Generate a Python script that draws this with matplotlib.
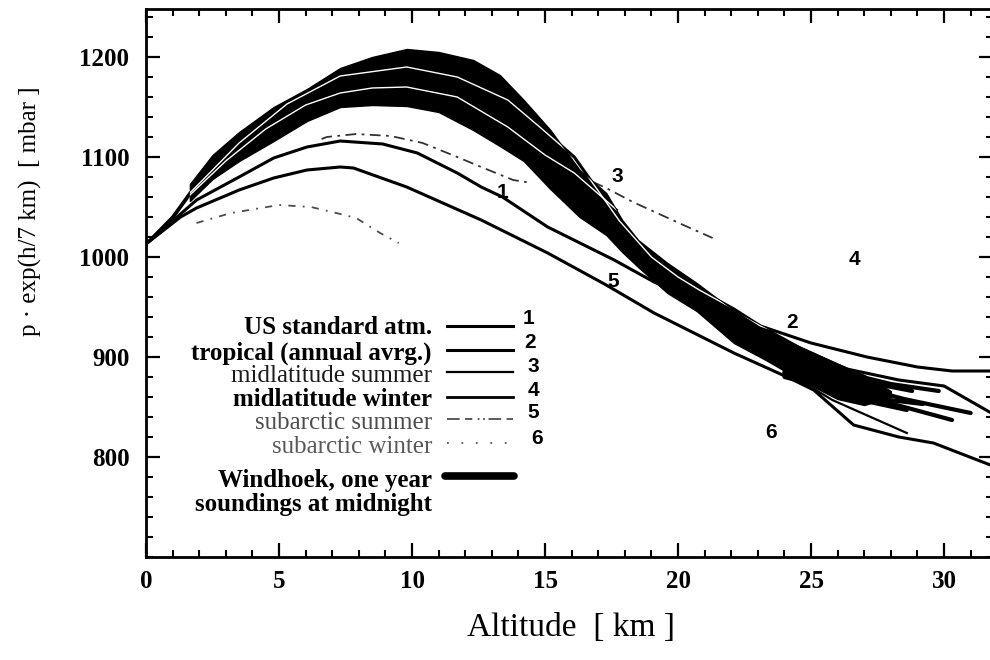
import matplotlib
matplotlib.use("Agg")
import matplotlib.pyplot as plt
from matplotlib.ticker import MultipleLocator

nan = float("nan")

# p*exp(h/7km) profiles (altitude km, value mbar)
alt_us = [0, 1.0, 1.9, 3.5, 4.8, 6.05, 7.3, 8.9, 10.2, 11.7, 12.6, 13.4, 15.1, 17.6,
          19.1, 20.8, 22.1, 24.0, 26.35, 28.3, 30.0, 31.84]
val_us = [1013, 1036, 1057, 1080, 1099, 1110, 1116, 1113, 1104, 1084, 1070, 1060, 1030, 997,
          975, 956, 941, 916, 888, 877, 871, 843]

alt_trop = [0, 1.0, 1.65, 3.5, 5.3, 7.3, 9.8, 11.7, 13.6, 14.8, 16.1, 17.8, 19.0, 20.0,
            20.8, 22.1, 23.1, 25.0, 27.1, 29.0, 30.3, 31.84]
val_trop = [1013, 1040, 1064, 1114, 1153, 1181, 1190, 1180, 1157, 1130, 1100, 1036, 1000, 980,
            967, 948, 931, 914, 900, 890, 886, 886]

alt_mls = [0, 1.0, 1.65, 3.0, 4.5, 6.0, 7.3, 8.5, 9.8, 11.7, 13.6, 15.0, 16.1, 17.7]
val_mls = [1013, 1038, 1062, 1096, 1128, 1152, 1164, 1169, 1170, 1160, 1130, 1102, 1084, 1047]

# dash-dot curve, lost behind the bundle between ~14.5 and ~16.8 km
alt_mlw = [6.6, 6.8, 7.9, 9.2, 10.4, 11.7, 12.6, 13.8, 14.5, 15.5, 16.8, 17.3, 18.3, 20.2, 21.3]
val_mlw = [1118, 1120, 1123, 1121, 1114, 1100, 1090, 1077, 1074, nan, 1075, 1069, 1055, 1032, 1019]

alt_sas = [0, 1.3, 1.9, 3.5, 4.8, 6.05, 7.3, 7.8, 9.8, 12.6, 15.1, 17.3, 19.1, 22.1,
           24.1, 25.1, 26.6, 28.3, 29.6, 31.84]
val_sas = [1013, 1040, 1049, 1067, 1079, 1087, 1090, 1089, 1070, 1037, 1004, 972, 944, 904,
           880, 867, 832, 820, 814, 791]

alt_saw = [1.9, 3.2, 5.0, 6.2, 7.0, 7.9, 8.8, 9.5]
val_saw = [1034, 1044, 1052, 1050, 1045, 1039, 1024, 1014]

# Windhoek soundings: envelope of the bundle and the loose ends above 24 km
band_alt = [1.65, 2.5, 3.5, 4.8, 6.05, 7.3, 8.5, 9.8, 11.0, 12.3, 13.3, 14.2, 15.2, 16.3,
            17.3, 17.9, 18.5, 19.6, 20.7, 22.1, 23.3, 24.6, 26.0, 27.0, 28.0]
band_hi = [1073, 1102, 1125, 1150, 1168, 1189, 1200, 1208, 1205, 1197, 1182, 1157, 1127, 1087,
           1064, 1037, 1017, 994, 974, 946, 929, 910, 893, 882, 866]
band_lo = [1056, 1078, 1096, 1116, 1136, 1150, 1152, 1151, 1145, 1127, 1111, 1096, 1068, 1040,
           1022, 1005, 990, 964, 946, 914, 897, 877, 858, 852, 860]
tails = [
    ([24.0, 26.0, 28.0, 29.8], [905, 886, 873, 866]),
    ([24.0, 26.5, 28.8], [898, 878, 866]),
    ([24.0, 26.5, 28.5, 31.0], [895, 872, 858, 844]),
    ([24.0, 26.5, 28.5, 30.3], [888, 864, 850, 837]),
    ([24.0, 26.0, 28.6], [885, 862, 847]),
    ([24.0, 27.0, 29.2], [884, 860, 853]),
    ([24.0, 27.5, 28.2], [880, 856, 852]),
]
thin_tail = ([24.5, 25.8, 28.6], [878, 857, 824])

legend_labels = ["US standard atm.", "tropical (annual avrg.)", "midlatitude summer",
                 "midlatitude winter", "subarctic summer", "subarctic winter"]
legend_nums = ["1", "2", "3", "4", "5", "6"]
curve_labels = [("1", 13.4, 1064), ("3", 17.7, 1080), ("5", 17.55, 975),
                ("4", 26.65, 997), ("2", 24.3, 934), ("6", 23.5, 824)]

serif = "Liberation Serif"
sans = "Liberation Sans"

fig = plt.figure(figsize=(9.9, 6.6), dpi=100)
ax = fig.add_axes([146 / 990, 103 / 660, 847 / 990, 548 / 660])

# model atmospheres
ax.plot(alt_us, val_us, color="black", lw=2.2, zorder=2)
ax.plot(alt_sas, val_sas, color="black", lw=2.2, zorder=2)
ax.plot(alt_trop, val_trop, color="black", lw=2.2, zorder=2)
ax.plot(alt_mls, val_mls, color="black", lw=1.6, zorder=2)
ax.plot(alt_mlw, val_mlw, color="0.2", lw=1.3, ls=(0, (6, 3, 1.5, 3)), zorder=2)
ax.plot(alt_saw, val_saw, color="0.3", lw=1.3, ls=(0, (4, 4, 1, 4)), zorder=2)

# soundings
band = ax.fill_between(band_alt, band_lo, band_hi, color="black", lw=1, zorder=3)
for ta, tv in tails:
    ax.plot(ta, tv, color="black", lw=3, zorder=3, solid_capstyle="round")
ax.plot(thin_tail[0], thin_tail[1], color="black", lw=1.6, zorder=3)

# model curves that run inside the bundle show up white
clip = band.get_paths()[0]
for a, v in [(alt_trop, val_trop), (alt_mls, val_mls)]:
    wl, = ax.plot(a, v, color="white", lw=1.0, zorder=4)
    wl.set_clip_path(clip, ax.transData)

for txt, x, y in curve_labels:
    ax.text(x, y, txt, fontsize=15, fontweight="bold", family=sans,
            ha="center", va="center", zorder=5)

# legend, drawn by hand: text | line | number
tr = ax.transAxes
def fx(px):
    return (px - 146) / 847
def fy(py):
    return (557 - py) / 548

row_y = [328, 353, 376, 400, 423, 447]
line_y = [326, 350, 372, 397, 419, 443]
num_y = [318, 343, 367, 390, 413, 438]
num_x = [528, 530, 533, 533, 533, 537]
weights = ["bold", "bold", "normal", "bold", "normal", "normal"]
colors = ["black", "black", "0.1", "black", "0.3", "0.35"]
styles = [dict(lw=2.2), dict(lw=2.2), dict(lw=1.6), dict(lw=2.0),
          dict(lw=1.3, ls=(0, (7, 3, 4, 3, 1, 2, 1, 2)), color="0.3"),
          dict(lw=1.3, ls=(0, (1, 7)), color="0.35")]
for i, lab in enumerate(legend_labels):
    ax.text(fx(432), fy(row_y[i]), lab, transform=tr, ha="right", va="center",
            fontsize=18, family=serif, fontweight=weights[i], color=colors[i])
    st = dict(color="black")
    st.update(styles[i])
    ax.plot([fx(447), fx(513)], [fy(line_y[i])] * 2, transform=tr, **st)
    ax.text(fx(num_x[i]), fy(num_y[i]), legend_nums[i], transform=tr, ha="center",
            va="center", fontsize=15, fontweight="bold", family=sans)
ax.text(fx(432), fy(480), "Windhoek, one year", transform=tr, ha="right", va="center",
        fontsize=18, family=serif, fontweight="bold")
ax.text(fx(432), fy(504), "soundings at midnight", transform=tr, ha="right", va="center",
        fontsize=18, family=serif, fontweight="bold")
ax.plot([fx(445), fx(514)], [fy(476)] * 2, transform=tr, color="black", lw=5.5,
        solid_capstyle="round")

ax.set_xlim(0, 31.84)
ax.set_ylim(700, 1248)
ax.xaxis.set_major_locator(MultipleLocator(5))
ax.xaxis.set_minor_locator(MultipleLocator(1))
ax.yaxis.set_major_locator(MultipleLocator(100))
ax.yaxis.set_minor_locator(MultipleLocator(20))
ax.set_yticks([800, 900, 1000, 1100, 1200])
ax.tick_params(which="both", direction="in", top=True, right=True)
ax.tick_params(which="major", length=10, width=1.6)
ax.tick_params(which="minor", length=5, width=1.5)
ax.tick_params(axis="x", pad=9)
ax.tick_params(axis="y", pad=12)
for lab in ax.get_xticklabels() + ax.get_yticklabels():
    lab.set_fontfamily(serif)
    lab.set_fontweight("bold")
    lab.set_fontsize(18)
for s in ax.spines.values():
    s.set_linewidth(2)

ax.set_xlabel("Altitude  [ km ]", fontsize=24, family=serif, va="center")
ax.xaxis.set_label_coords(0.502, -0.1296)
ax.set_ylabel("p · exp(h/7 km)  [ mbar ]", fontsize=18, family=serif, va="center")
ax.yaxis.set_label_coords(-0.137, 0.631)

fig.savefig("out.png", dpi=100)
